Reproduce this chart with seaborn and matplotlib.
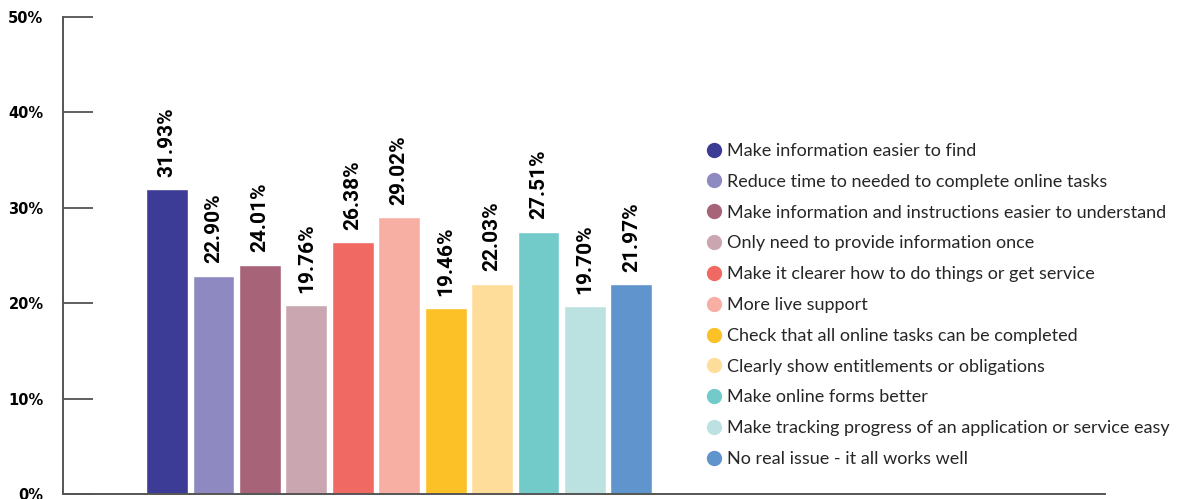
import matplotlib
matplotlib.use("Agg")
import matplotlib.pyplot as plt
from matplotlib.lines import Line2D
import seaborn as sns
import pandas as pd

categories = [
    "Make information easier to find",
    "Reduce time to needed to complete online tasks",
    "Make information and instructions easier to understand",
    "Only need to provide information once",
    "Make it clearer how to do things or get service",
    "More live support",
    "Check that all online tasks can be completed",
    "Clearly show entitlements or obligations",
    "Make online forms better",
    "Make tracking progress of an application or service easy",
    "No real issue - it all works well",
]
values = [31.93, 22.90, 24.01, 19.76, 26.38, 29.02, 19.46, 22.03, 27.51, 19.70, 21.97]
colors = [
    "#3C3C96", "#8E89C0", "#A76478", "#CAA6B0", "#F06A63", "#F8AFA3",
    "#FDC128", "#FEDD9B", "#72CAC9", "#BBE2E0", "#6094CC",
]
y_ticks = [0, 10, 20, 30, 40, 50]
y_tick_labels = ["0%", "10%", "20%", "30%", "40%", "50%"]

df = pd.DataFrame({"category": categories, "value": values})

sns.set_theme(style="white")
plt.rcParams["font.family"] = ["DejaVu Sans"]

fig = plt.figure(figsize=(12.01, 4.99), dpi=100)
ax = fig.add_axes([63 / 1201, 5 / 499, (1105 - 63) / 1201, (494 - 17) / 499])

sns.barplot(
    data=df, x="category", y="value", hue="category",
    palette=colors, order=categories, hue_order=categories,
    width=0.9, saturation=1, legend=False, ax=ax,
)

for container in ax.containers:
    ax.bar_label(
        container, labels=[f"{v:.2f}%" for v in container.datavalues],
        rotation=90, padding=9,
        fontsize=15, fontweight="bold", color="black",
        family=["Roboto", "DejaVu Sans"],
    )

ax.set_xlim(-2.24, 20.2)
ax.set_ylim(0, 50)
ax.set_yticks(y_ticks)
ax.set_yticklabels(y_tick_labels, fontsize=10.5, fontweight="bold", color="black")
ax.set_xticks([])
ax.set_xlabel("")
ax.set_ylabel("")
ax.tick_params(axis="y", direction="in", length=21.5, width=1.1,
               color="#333333", pad=14, left=True)

for side in ("top", "right"):
    ax.spines[side].set_visible(False)
for side in ("left", "bottom"):
    ax.spines[side].set_color("#555555")
    ax.spines[side].set_linewidth(1.4)

handles = [
    Line2D([], [], marker="o", linestyle="", markersize=10,
           markerfacecolor=c, markeredgecolor=c)
    for c in colors
]
fig.legend(
    handles, categories, loc="upper left",
    bbox_to_anchor=(706 / 1201, 1 - 143 / 499),
    frameon=False, labelspacing=0.82,
    handlelength=0.9, handletextpad=0.25, borderpad=0, borderaxespad=0,
    prop={"family": ["Lato", "DejaVu Sans"], "size": 13},
)

fig.savefig("out.png", dpi=100)
